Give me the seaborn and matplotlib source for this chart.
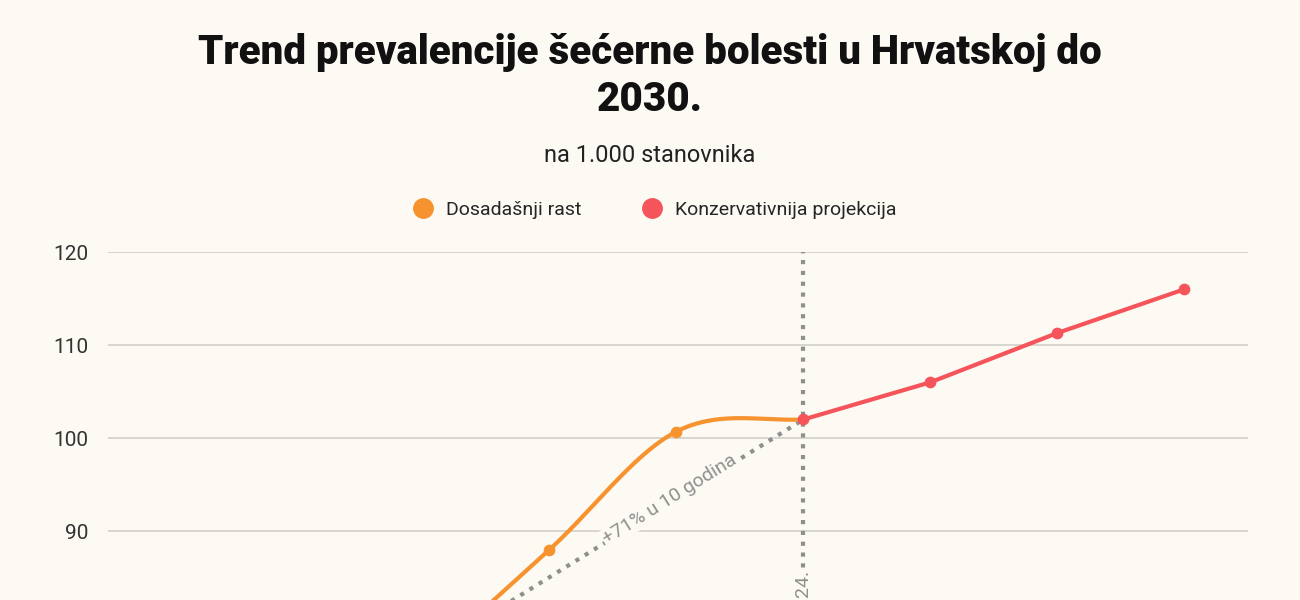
import numpy as np
import pandas as pd
import matplotlib
matplotlib.use('Agg')
import matplotlib.pyplot as plt
import seaborn as sns
from matplotlib.lines import Line2D

# podaci (na 1.000 stanovnika)
years_past = [2014, 2016, 2018, 2020, 2022, 2024]
vals_past = [59.6, 66.0, 76.0, 88.0, 100.7, 102.0]
years_proj = [2024, 2026, 2028, 2030]
vals_proj = [102.0, 106.0, 111.3, 116.0]

BG = '#fdf9f3'
ORANGE = '#f7932f'
RED = '#f4545a'
GREY = '#8f8f8f'


def catmull_rom(x, y, n=60):
    # glatka krivulja kroz tocke (samo za crtanje)
    x = np.asarray(x, float)
    y = np.asarray(y, float)
    px = np.concatenate([[2 * x[0] - x[1]], x, [2 * x[-1] - x[-2]]])
    py = np.concatenate([[2 * y[0] - y[1]], y, [y[-1]]])
    out_x, out_y = [], []
    t = np.linspace(0, 1, n)
    for i in range(1, len(px) - 2):
        for arr, out in ((px, out_x), (py, out_y)):
            p0, p1, p2, p3 = arr[i - 1], arr[i], arr[i + 1], arr[i + 2]
            out.extend(0.5 * (2 * p1 + (-p0 + p2) * t
                              + (2 * p0 - 5 * p1 + 4 * p2 - p3) * t**2
                              + (-p0 + 3 * p1 - 3 * p2 + p3) * t**3))
    return np.array(out_x), np.array(out_y)


sns.set_theme(style='white')
plt.rcParams['font.family'] = ['Roboto', 'DejaVu Sans']

fig = plt.figure(figsize=(13, 6), dpi=100, facecolor=BG)
ax = fig.add_axes([0.083, 0.0, 0.877, 0.58])
ax.set_facecolor(BG)

xs, ys = catmull_rom(years_past, vals_past)
smooth = pd.DataFrame({'year': xs, 'val': ys})
sns.lineplot(data=smooth, x='year', y='val', color=ORANGE, lw=3, ax=ax, zorder=3,
             sort=False)
ax.scatter(years_past[:-1], vals_past[:-1], color=ORANGE, s=55, zorder=4)

proj = pd.DataFrame({'year': years_proj, 'val': vals_proj})
sns.lineplot(data=proj, x='year', y='val', color=RED, lw=3, ax=ax, zorder=3)
ax.scatter(years_proj, vals_proj, color=RED, s=55, zorder=5)

# trend linija +71%
ax.plot([years_past[0], years_past[-1]], [vals_past[0], vals_past[-1]],
        color=GREY, lw=3, ls=(0, (1, 1.6)), zorder=2)
ax.text(2021.9, 93.4, '+71% u 10 godina', rotation=32, color=GREY, fontsize=14,
        ha='center', va='center', zorder=2.5,
        bbox=dict(facecolor=BG, edgecolor='none', pad=1))

ax.axvline(2024, color=GREY, lw=3, ls=(0, (1, 1.6)), zorder=1)
ax.text(2024, 85.8, '2024.', rotation=90, color=GREY, fontsize=14,
        ha='center', va='top', zorder=2,
        bbox=dict(facecolor=BG, edgecolor='none', pad=1))

ax.set_xlim(2013.05, 2031)
ax.set_ylim(82.6, 120)
ax.set_yticks([90, 100, 110, 120])
ax.yaxis.grid(True, color='#d6d3cf', lw=1.3)
ax.set_xticks([])
ax.set_xlabel('')
ax.set_ylabel('')
ax.tick_params(axis='y', labelsize=15, labelcolor='#333333', pad=14, length=0)
for s in ax.spines.values():
    s.set_visible(False)

fig.text(0.5, 0.873, 'Trend prevalencije šećerne bolesti u Hrvatskoj do\n2030.',
         ha='center', va='center', fontsize=29, fontweight='black', linespacing=1.25,
         color='#111111')
fig.text(0.5, 0.74, 'na 1.000 stanovnika', ha='center', va='center', fontsize=17,
         color='#222222')

handles = [Line2D([], [], marker='o', ls='none', color=ORANGE, markersize=14),
           Line2D([], [], marker='o', ls='none', color=RED, markersize=14)]
fig.legend(handles, ['Dosadašnji rast', 'Konzervativnija projekcija'],
           loc='center', bbox_to_anchor=(0.5, 0.65), ncol=2, frameon=False,
           fontsize=14, handletextpad=0.2, columnspacing=2.6)

fig.savefig('out.png', dpi=100, facecolor=BG)
